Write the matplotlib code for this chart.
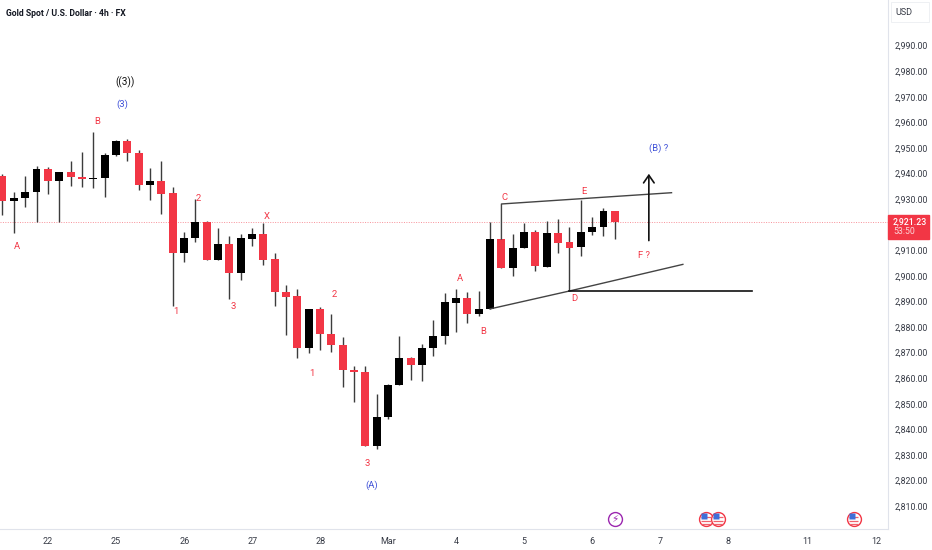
import matplotlib
matplotlib.use('Agg')
import matplotlib.pyplot as plt
from matplotlib.patches import Rectangle

plt.rcParams['font.family'] = ['Roboto', 'DejaVu Sans']

# candles, 4h bars
opens = [2939.0, 2929.4, 2930.3, 2932.7, 2941.8, 2937.2, 2940.7, 2938.6, 2938.0, 2938.2,
         2947.2, 2952.8, 2948.2, 2935.6, 2937.0, 2932.2, 2909.0, 2914.9, 2921.0, 2906.3,
         2912.6, 2901.2, 2914.5, 2916.2, 2906.5, 2893.9, 2892.0, 2871.7, 2887.1, 2877.3,
         2873.1, 2863.3, 2862.6, 2833.6, 2844.8, 2857.3, 2867.8, 2865.2, 2871.7, 2876.5,
         2889.5, 2891.2, 2885.0, 2887.1, 2914.4, 2903.0, 2910.9, 2917.3, 2903.6, 2916.8,
         2913.1, 2911.2, 2917.2, 2919.1, 2925.5]
closes = [2929.4, 2930.4, 2932.8, 2941.8, 2937.2, 2940.7, 2938.5, 2938.0, 2938.3, 2947.2,
          2952.8, 2948.2, 2935.6, 2937.0, 2932.1, 2909.0, 2914.9, 2921.0, 2906.3, 2912.6,
          2901.2, 2914.7, 2916.2, 2906.3, 2893.9, 2891.9, 2871.7, 2887.1, 2877.3, 2873.0,
          2863.3, 2862.6, 2833.6, 2845.0, 2857.4, 2867.8, 2865.2, 2871.7, 2876.5, 2889.7,
          2891.2, 2885.1, 2887.1, 2914.4, 2903.0, 2911.0, 2917.3, 2903.7, 2916.8, 2913.0,
          2911.0, 2917.3, 2919.1, 2925.5, 2921.23]
highs = [2939.8, 2932.8, 2939.2, 2942.9, 2942.4, 2940.7, 2944.8, 2948.6, 2956.2, 2947.9,
         2953.1, 2953.3, 2949.2, 2942.0, 2944.8, 2934.7, 2917.0, 2929.9, 2921.3, 2918.9,
         2915.4, 2916.5, 2918.7, 2920.8, 2909.1, 2896.4, 2894.8, 2887.1, 2887.7, 2885.1,
         2876.0, 2864.9, 2864.8, 2853.9, 2857.8, 2876.5, 2868.4, 2873.4, 2882.8, 2893.2,
         2894.9, 2893.7, 2894.2, 2921.2, 2914.6, 2916.2, 2920.5, 2917.9, 2921.5, 2922.2,
         2919.1, 2929.7, 2922.9, 2926.4, 2925.5]
lows = [2923.9, 2916.6, 2926.8, 2921.2, 2932.0, 2921.2, 2935.1, 2934.9, 2934.4, 2930.8,
        2946.7, 2945.0, 2933.4, 2929.6, 2924.0, 2888.3, 2905.5, 2913.4, 2906.3, 2906.1,
        2890.8, 2898.5, 2911.8, 2904.2, 2888.4, 2876.9, 2867.8, 2870.0, 2871.2, 2870.4,
        2856.7, 2850.9, 2833.6, 2832.5, 2844.1, 2857.3, 2859.3, 2858.8, 2868.8, 2873.5,
        2878.2, 2881.7, 2884.5, 2887.1, 2903.0, 2900.1, 2910.9, 2901.9, 2903.4, 2909.1,
        2894.1, 2907.9, 2916.0, 2915.7, 2914.6]

last_price = 2921.23
countdown = '53:50'

day_labels = ['22', '25', '26', '27', '28', 'Mar', '4', '5', '6', '7', '8', '11', '12']
day_bars = [3.98, 9.98, 16.05, 22.05, 28.05, 34.0, 40.0, 46.0, 52.0, 58.0, 64.0, 71.0, 77.05]
price_ticks = [2810, 2820, 2830, 2840, 2850, 2860, 2870, 2880, 2890, 2900, 2910,
               2930, 2940, 2950, 2960, 2970, 2980, 2990]

# wave labels
red_labels = ['A', 'B', '1', '2', '3', 'X', '1', '2', '3', 'A', 'B', 'C', 'E', 'D', 'F ?']
red_x = [1.28, 8.33, 15.3, 17.24, 20.33, 23.3, 27.3, 29.3, 32.2, 40.3, 42.4, 44.3, 51.3, 50.4, 56.6]
red_y = [2911.3, 2960.5, 2885.9, 2930.4, 2888.2, 2923.4, 2861.7, 2892.9, 2826.5,
         2898.8, 2878.1, 2930.8, 2932.8, 2891.0, 2907.8]
blue_labels = ['(3)', '(A)', '(B) ?']
blue_x = [10.54, 32.6, 57.9]
blue_y = [2967.1, 2818.3, 2950.0]

# triangle drawn on the chart
upper_x = [44, 44, 59.0]
upper_y = [2914.4, 2928.1, 2932.5]
lower_x = [43, 50, 60.0]
lower_y = [2887.1, 2894.1, 2904.5]
base_x = [50, 66.07]
base_y = [2894.1, 2894.1]
arrow_x = 57.0
arrow_from = 2913.8
arrow_to = 2939.9

lightning_x = [53.98]
flag_x = [62.04, 63.1, 75.06]
icon_price = 2805.0

RED = '#f23645'
BLUE = '#3f51d8'
TEXT = '#363a45'

fig = plt.figure(figsize=(9.32, 5.5), dpi=100)
ax = fig.add_axes([0, 21 / 550, 888 / 932, 529 / 550])
ax.set_xlim(-0.22, 78.09)
ax.set_ylim(2801.1, 3007.8)

for s in ['top', 'left']:
    ax.spines[s].set_visible(False)
ax.spines['right'].set_color('#e0e3eb')
ax.spines['bottom'].set_color('#e0e3eb')

ax.yaxis.tick_right()
ax.set_yticks(price_ticks)
ax.set_yticklabels(['{:,.2f}'.format(p) for p in price_ticks], fontsize=6.3, color=TEXT)
ax.set_xticks(day_bars)
ax.set_xticklabels(day_labels, fontsize=6.5, color=TEXT)
ax.tick_params(length=0, pad=5)
ax.tick_params(axis='x', pad=6)

# last price line
ax.axhline(last_price, color=RED, lw=0.7, ls=(0, (1, 1.5)), alpha=0.55, zorder=1)

# candles
xs = list(range(len(opens)))
ax.vlines(xs, lows, highs, color='#3c3c3c', lw=1.0, zorder=2)
for i in xs:
    col = 'black' if closes[i] >= opens[i] else RED
    bottom = min(opens[i], closes[i])
    ax.bar(i, abs(closes[i] - opens[i]), width=0.7, bottom=bottom, color=col, zorder=3)

# trend lines
ax.plot(upper_x, upper_y, color='#444444', lw=1.0, zorder=4)
ax.plot(lower_x, lower_y, color='#444444', lw=1.0, zorder=4)
ax.plot(base_x, base_y, color='#111111', lw=1.2, zorder=4)
ax.annotate('', xy=(arrow_x, arrow_to), xytext=(arrow_x, arrow_from),
            arrowprops=dict(arrowstyle='->,head_length=0.55,head_width=0.38', color='#111111',
                            lw=1.2, shrinkA=0, shrinkB=0), zorder=4)

# labels
for t, x, y in zip(red_labels, red_x, red_y):
    ax.text(x, y, t, color=RED, fontsize=6.8, ha='center', va='center')
for t, x, y in zip(blue_labels, blue_x, blue_y):
    ax.text(x, y, t, color=BLUE, fontsize=6.8, ha='center', va='center')
ax.text(10.8, 2975.7, '((3))', color='#111111', fontsize=7.2, ha='center', va='center')

fig.text(6 / 932, 1 - 13 / 550, 'Gold Spot / U.S. Dollar · 4h · FX', fontsize=6.2,
         color='#131722', fontweight='bold', ha='left', va='center')

# event icons along the bottom
for x in lightning_x:
    ax.plot(x, icon_price, 'o', ms=10, mfc='white', mec='#9c27b0', mew=1.0, zorder=5)
    ax.text(x, icon_price, '\u26a1', color='#9c27b0', fontsize=7.5, ha='center', va='center',
            family='DejaVu Sans', zorder=6)
for x in flag_x:
    ax.plot(x, icon_price, 'o', ms=10, mfc='white', mec=RED, mew=1.0, zorder=5)
    ax.hlines([icon_price + 0.6, icon_price - 0.8, icon_price - 2.0], x - 0.42, x + 0.42,
              color='#f0606c', lw=0.9, zorder=6)
    ax.plot(x - 0.14, icon_price + 1.0, 's', ms=4.2, mfc='#3f6fd8', mec='none', zorder=7)

# price box and currency box
fig.add_artist(Rectangle((888 / 932, 1 - 238.5 / 550), 41 / 932, 23 / 550, color=RED,
                         transform=fig.transFigure, zorder=5))
fig.text(910 / 932, 1 - 221.5 / 550, '{:,.2f}'.format(last_price), color='white', fontsize=6.3,
         fontweight='medium', ha='center', va='center', zorder=6)
fig.text(904 / 932, 1 - 231.5 / 550, countdown, color='#fbd5d8', fontsize=6.3,
         ha='center', va='center', zorder=6)
fig.add_artist(Rectangle((891 / 932, 1 - 22 / 550), 38 / 932, 20 / 550, fc='white', ec='#eef0f3',
                         lw=0.7, transform=fig.transFigure))
fig.text(903.5 / 932, 1 - 12.5 / 550, 'USD', color=TEXT, fontsize=6.5, ha='center', va='center')

fig.savefig('out.png', dpi=100)
